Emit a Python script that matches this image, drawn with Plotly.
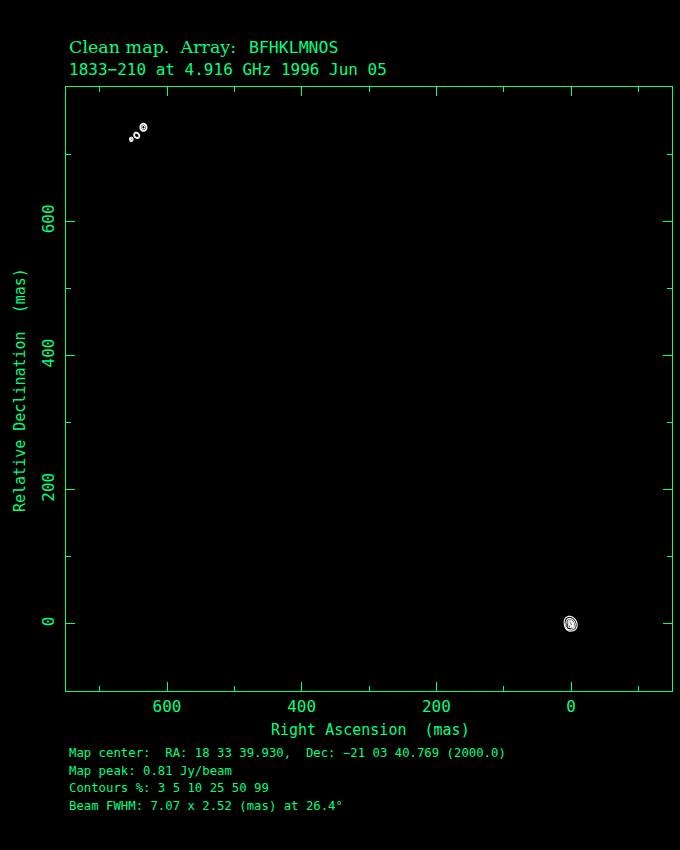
import numpy as np
import plotly.graph_objects as go

# ---- data ----
title_line1a = "Clean map.\u00a0\u00a0Array:"
title_line1b = "BFHKLMNOS"
title_line2 = "1833\u2212210 at 4.916 GHz 1996 Jun 05"
footer_lines = [
    "Map center:\u00a0\u00a0RA: 18 33 39.930,\u00a0\u00a0Dec: \u221221 03 40.769 (2000.0)",
    "Map peak: 0.81 Jy/beam",
    "Contours %: 3 5 10 25 50 99",
    "Beam FWHM: 7.07 x 2.52 (mas) at 26.4\u00b0",
]
map_peak = 0.81
contour_pct = [3, 5, 10, 25, 50, 99]
x_ticks = [600, 400, 200, 0]
y_ticks = [0, 200, 400, 600]

# model components (RA offset mas, Dec offset mas, peak Jy/beam, major FWHM, minor FWHM, PA deg)
comp_ra = [0.0, 0.5, 4.0, 635.0, 645.0, 653.0]
comp_dec = [0.0, 0.5, -5.0, 740.0, 728.0, 722.0]
comp_flux = [0.75, 0.065, 0.04, 0.11, 0.08, 0.05]
comp_maj = [6.0, 19.0, 7.0, 8.0, 7.5, 6.0]
comp_min = [3.5, 15.0, 5.0, 7.0, 6.0, 5.0]
comp_pa = [26.4, 30.0, 30.0, 0.0, 40.0, 0.0]

# regions where the map is evaluated (RA min, RA max, Dec min, Dec max)
regions = [(-30, 30, -30, 30), (605, 685, 690, 770)]

GREEN = "#00ff80"
MONO = "DejaVu Sans Mono, Liberation Mono, monospace"


def model(X, Y):
    Z = np.zeros_like(X)
    for ra, de, f, a, b, pa in zip(comp_ra, comp_dec, comp_flux, comp_maj, comp_min, comp_pa):
        th = np.deg2rad(pa)
        dx, dy = X - ra, Y - de
        u = dx * np.sin(th) + dy * np.cos(th)   # along PA (N through E)
        v = -dx * np.cos(th) + dy * np.sin(th)
        sa, sb = a / 2.3548, b / 2.3548
        Z += f * np.exp(-0.5 * ((u / sa) ** 2 + (v / sb) ** 2))
    return Z


lv = [0] + contour_pct + [101]
idx = list(range(len(lv)))

fig = go.Figure()
for x0, x1, y0, y1 in regions:
    xs = np.arange(x0, x1 + 0.01, 0.4)
    ys = np.arange(y0, y1 + 0.01, 0.4)
    X, Y = np.meshgrid(xs, ys)
    pct = model(X, Y) / map_peak * 100
    zi = np.interp(pct, lv, idx)
    fig.add_trace(go.Contour(
        x=xs, y=ys, z=zi,
        contours=dict(start=1, end=len(contour_pct), size=1, coloring="lines"),
        colorscale=[[0, "white"], [1, "white"]],
        line=dict(width=1.1, color="white"),
        showscale=False, hoverinfo="skip",
    ))

axis_common = dict(
    showgrid=False, zeroline=False,
    showline=True, linecolor=GREEN, linewidth=1.2, mirror="allticks",
    ticks="inside", ticklen=9, tickwidth=1.2, tickcolor=GREEN,
    tickfont=dict(family=MONO, size=16, color=GREEN),
    minor=dict(dtick=100, ticks="inside", ticklen=5, tickwidth=1.2, tickcolor=GREEN),
)

fig.update_layout(
    width=680, height=850,
    margin=dict(l=66, r=8, t=87, b=159),
    paper_bgcolor="black", plot_bgcolor="black",
    showlegend=False,
    xaxis=dict(range=[750, -150], tickvals=x_ticks, ticktext=[str(v) for v in x_ticks],
               ticklabelstandoff=1, **axis_common),
    yaxis=dict(range=[-100, 800], tickvals=y_ticks, ticktext=[str(v) for v in y_ticks],
               tickangle=-90, ticklabelstandoff=5, **axis_common),
)


def px(xp):
    return (xp - 66) / 606.0


def py(yp):
    return (691 - yp) / 604.0


ann = []
ann.append(dict(text=title_line1a, x=px(67), y=py(47), font=dict(family="DejaVu Serif, serif", size=17.5, color=GREEN)))
ann.append(dict(text=title_line1b, x=px(247), y=py(47), font=dict(family=MONO, size=16.5, color=GREEN)))
ann.append(dict(text=title_line2, x=px(67), y=py(70), font=dict(family=MONO, size=16, color=GREEN)))
for i, t in enumerate(footer_lines):
    ann.append(dict(text=t, x=px(67), y=py(753 + 17.7 * i), font=dict(family=MONO, size=12.3, color=GREEN)))
for a in ann:
    a.update(xref="paper", yref="paper", xanchor="left", yanchor="middle", showarrow=False)
ann.append(dict(text="Right Ascension\u00a0\u00a0(mas)", x=px(370), y=py(730), xref="paper", yref="paper",
                xanchor="center", yanchor="middle", showarrow=False,
                font=dict(family=MONO, size=15, color=GREEN)))
ann.append(dict(text="Relative Declination\u00a0\u00a0(mas)", x=px(20), y=py(390), xref="paper", yref="paper",
                xanchor="center", yanchor="middle", showarrow=False, textangle=-90,
                font=dict(family=MONO, size=15, color=GREEN)))
fig.update_layout(annotations=ann)

fig.write_html(
    "out.html",
    config={"displayModeBar": False},
    post_script="document.body.style.margin='0';document.body.style.padding='0';"
                "document.body.style.background='black';"
                "document.documentElement.style.background='black';",
)
